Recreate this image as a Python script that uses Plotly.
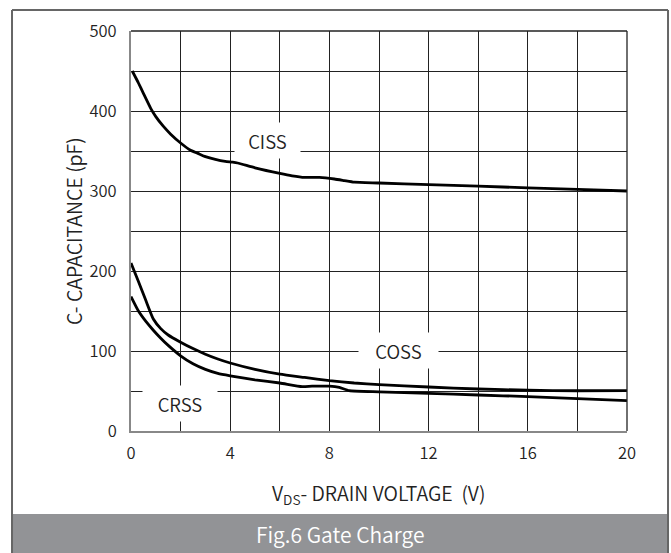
import plotly.graph_objects as go

# ---- data ----
ciss_x = [0.05, 0.3, 0.5, 0.8, 1.0, 1.3, 1.6, 2.0, 2.4, 2.7, 3.0, 3.4, 3.8, 4.1, 4.3,
          5.0, 6.0, 6.5, 7.0, 7.6, 8.2, 8.6, 9.0, 10, 12, 14, 16, 18, 20]
ciss_y = [450, 435, 422, 403, 393, 381, 371, 360, 351, 347, 343, 339.5, 337, 336, 335,
          329, 322, 319, 317, 317, 315, 313, 311, 310, 308, 306, 304, 302, 300]

coss_x = [0.0, 0.3, 0.6, 0.9, 1.2, 1.5, 2.0, 2.5, 3.0, 3.5, 4.0, 5.0, 6.0, 7.0, 8.0,
          9.0, 10, 12, 14, 16, 18, 20]
coss_y = [210, 187, 163, 140, 128, 120, 111, 103, 96, 90, 85, 77, 71, 67, 63,
          60, 58, 55, 52.5, 51, 50.3, 50.5]

crss_x = [0.0, 0.3, 0.6, 0.9, 1.2, 1.5, 2.0, 2.5, 3.0, 3.5, 4.0, 5.0, 6.0, 6.9, 7.3,
          8.0, 8.4, 8.8, 10, 12, 14, 16, 18, 20]
crss_y = [168, 150, 137, 126, 116, 107, 94, 84, 77, 72, 69, 64, 60, 55.5, 56,
          56, 54.5, 50.5, 49, 47, 45, 43, 40.5, 38]

labels = ["CISS", "COSS", "CRSS"]
label_x = [5.52, 10.77, 1.98]
label_y = [363, 101, 34]
label_w = [65, 79, 74]

x_title = "V<sub>DS</sub>- DRAIN VOLTAGE \u00a0(V)"
y_title = "C- CAPACITANCE (pF)"
caption = "Fig.6 Gate Charge"

FONT = "Noto Sans CJK SC"
TXT = dict(family=FONT, color="#222", weight=350)

fig = go.Figure()
for xs, ys in [(ciss_x, ciss_y), (coss_x, coss_y), (crss_x, crss_y)]:
    fig.add_trace(go.Scatter(x=xs, y=ys, mode="lines",
                             line=dict(color="black", width=2.8, shape="spline", smoothing=0.5),
                             showlegend=False, hoverinfo="skip"))

for t, x, y, w in zip(labels, label_x, label_y, label_w):
    fig.add_annotation(x=x, y=y, xref="x", yref="y", text=t, showarrow=False,
                       font=dict(size=18.5, **TXT),
                       bgcolor="white", width=w, height=35, borderpad=0)

# axis titles and caption
fig.add_annotation(x=-0.117, y=0.5, xref="paper", yref="paper", text=y_title,
                   textangle=-90, showarrow=False, xanchor="center", yanchor="middle",
                   font=dict(size=19.5, **TXT))
fig.add_annotation(x=0.498, y=-0.155, xref="paper", yref="paper", text=x_title,
                   showarrow=False, xanchor="center", yanchor="middle",
                   font=dict(size=19.5, **TXT))

# frame: caption bar and outer border
fig.add_shape(type="rect", xref="paper", yref="paper", x0=-0.2399, x1=1.0827,
              y0=-0.31, y1=-0.2075, fillcolor="#929396", line=dict(width=0), layer="below")
fig.add_annotation(x=0.421, y=-0.2575, xref="paper", yref="paper", text=caption,
                   showarrow=False, xanchor="center", yanchor="middle",
                   font=dict(family=FONT, size=21, color="white", weight=350))
for x0, y0, x1, y1 in [(-0.2399, -0.31, -0.2399, 1.0525),
                       (-0.2399, 1.0525, 1.0827, 1.0525),
                       (1.0827, 1.0525, 1.0827, -0.31)]:
    fig.add_shape(type="line", xref="paper", yref="paper", x0=x0, y0=y0, x1=x1, y1=y1,
                  line=dict(color="#666", width=2))
# plot top/right border
fig.add_shape(type="line", xref="paper", yref="paper", x0=0, y0=1, x1=1, y1=1,
              line=dict(color="#222", width=1.3))
fig.add_shape(type="line", xref="paper", yref="paper", x0=1, y0=0, x1=1, y1=1,
              line=dict(color="#222", width=1.3))

fig.update_xaxes(range=[0, 20], dtick=4, tick0=0, showgrid=True, gridcolor="#222",
                 gridwidth=1.2, minor=dict(dtick=2, showgrid=True, gridcolor="#222", gridwidth=1.2),
                 showline=True, linecolor="#888", linewidth=2, zeroline=False,
                 ticks="", ticklabelstandoff=6,
                 tickfont=dict(size=16.5, **TXT), fixedrange=True)
fig.update_yaxes(range=[0, 500], dtick=100, tick0=0, showgrid=True, gridcolor="#222",
                 gridwidth=1.2, minor=dict(dtick=50, showgrid=True, gridcolor="#222", gridwidth=1.2),
                 showline=True, linecolor="#888", linewidth=2, zeroline=False,
                 ticks="", ticklabelstandoff=9,
                 tickfont=dict(size=16.5, **TXT), fixedrange=True)

fig.update_layout(width=671, height=553, margin=dict(l=131, r=44, t=31, b=122),
                  paper_bgcolor="white", plot_bgcolor="white")

fig.write_html("out.html")
